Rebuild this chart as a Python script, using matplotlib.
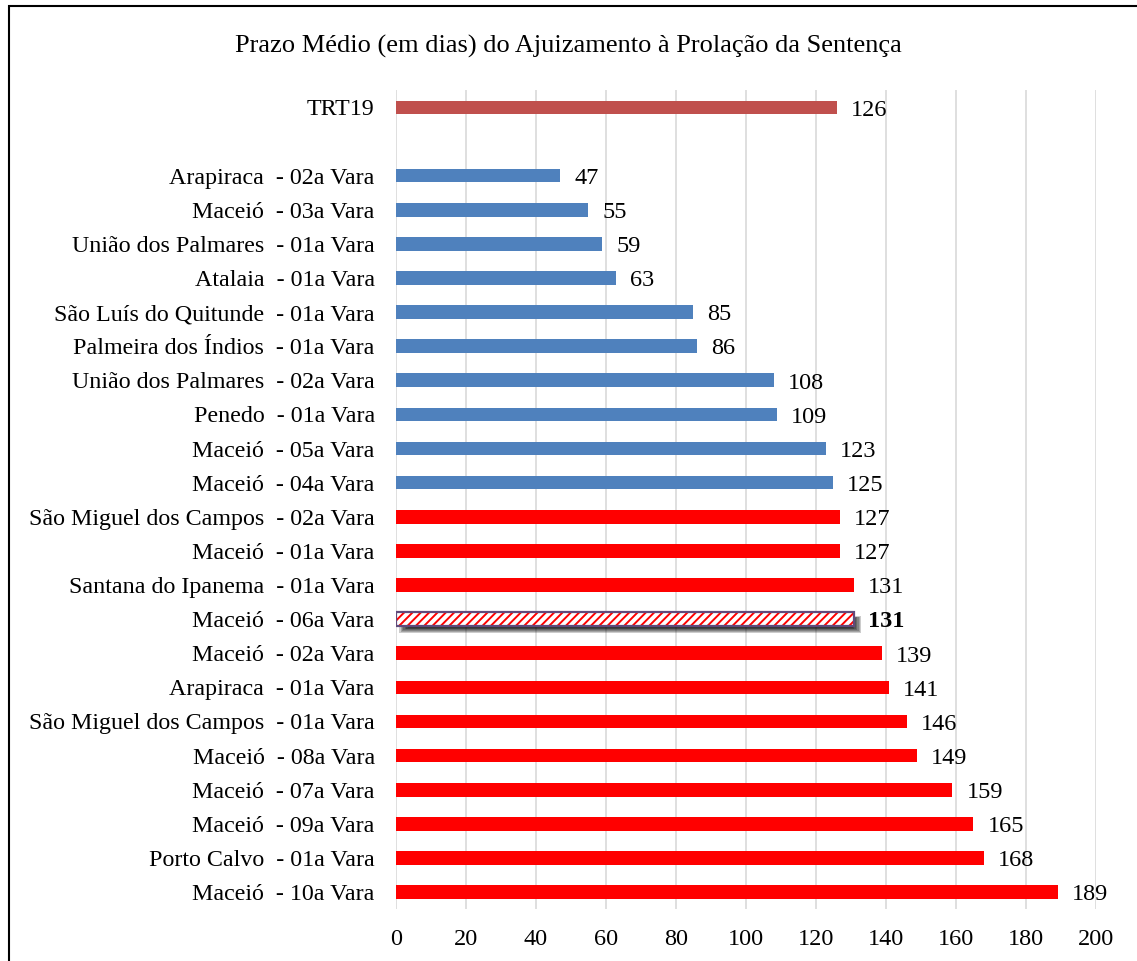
import matplotlib.pyplot as plt
from matplotlib.patches import Rectangle

plt.rcParams['font.family'] = ['Liberation Serif', 'DejaVu Serif']
plt.rcParams['hatch.linewidth'] = 1.4

categories = [
    "TRT19", "",
    "Arapiraca  - 02a Vara", "Maceió  - 03a Vara", "União dos Palmares  - 01a Vara",
    "Atalaia  - 01a Vara", "São Luís do Quitunde  - 01a Vara",
    "Palmeira dos Índios  - 01a Vara", "União dos Palmares  - 02a Vara",
    "Penedo  - 01a Vara", "Maceió  - 05a Vara", "Maceió  - 04a Vara",
    "São Miguel dos Campos  - 02a Vara", "Maceió  - 01a Vara",
    "Santana do Ipanema  - 01a Vara", "Maceió  - 06a Vara", "Maceió  - 02a Vara",
    "Arapiraca  - 01a Vara", "São Miguel dos Campos  - 01a Vara",
    "Maceió  - 08a Vara", "Maceió  - 07a Vara", "Maceió  - 09a Vara",
    "Porto Calvo  - 01a Vara", "Maceió  - 10a Vara",
]
values = [126, None, 47, 55, 59, 63, 85, 86, 108, 109, 123, 125,
          127, 127, 131, 131, 139, 141, 146, 149, 159, 165, 168, 189]
# group of each bar: t = TRT19, b = below average, r = above average, h = highlighted
groups = ["t", "", "b", "b", "b", "b", "b", "b", "b", "b", "b", "b",
          "r", "r", "r", "h", "r", "r", "r", "r", "r", "r", "r", "r"]
xticks = [0, 20, 40, 60, 80, 100, 120, 140, 160, 180, 200]

colors = {"t": "#C0504D", "b": "#4F81BD", "r": "#FF0000"}

fig = plt.figure(figsize=(11.37, 9.61), dpi=100)
ax = fig.add_axes([0.348, 0.054, 0.616, 0.852])

bh = 0.4
for i, (v, g) in enumerate(zip(values, groups)):
    if v is None:
        continue
    if g == "h":
        # soft shadow under the highlighted bar
        for k in range(7):
            ax.add_patch(Rectangle((1 + k * 0.4, i - bh / 2 + 0.12 + k * 0.01),
                                   v + 1 - k * 0.8, bh + 0.08 - k * 0.035,
                                   facecolor="black", edgecolor="none", alpha=0.2, zorder=2.5))
        ax.barh(i, v, height=bh, color="white", edgecolor="#FF0000", hatch="////",
                linewidth=0, zorder=3)
        ax.barh(i, v, height=bh, facecolor="none", edgecolor="#604A7B", linewidth=1.6, zorder=4)
        weight = "bold"
    else:
        ax.barh(i, v, height=bh, color=colors[g], zorder=3)
        weight = "normal"
    ax.annotate(str(v), (v, i), xytext=(10, -2), textcoords="offset points",
                va="center", ha="left", fontsize=17.5, fontweight=weight)

ax.set_yticks(range(len(categories)))
ax.set_yticklabels(categories, fontsize=17.3)
ax.set_ylim(len(categories) - 0.5, -0.5)
ax.set_xlim(0, 200)
ax.set_xticks(xticks)
ax.set_xticklabels([str(t) for t in xticks], fontsize=17.5)
ax.tick_params(axis="both", length=0)
ax.tick_params(axis="y", pad=15)
ax.tick_params(axis="x", pad=14)
ax.grid(axis="x", color="#D9D9D9", linewidth=1.2, zorder=0)
ax.set_axisbelow(True)
for s in ax.spines.values():
    s.set_visible(False)

fig.text(0.5, 0.952, "Prazo Médio (em dias) do Ajuizamento à Prolação da Sentença",
         ha="center", va="center", fontsize=19)

fig.patches.append(Rectangle((0.0075, -0.05), 1.2, 1.05 - 0.0065, transform=fig.transFigure,
                             fill=False, edgecolor="black", linewidth=1.5))

fig.savefig("out.png", dpi=100)
